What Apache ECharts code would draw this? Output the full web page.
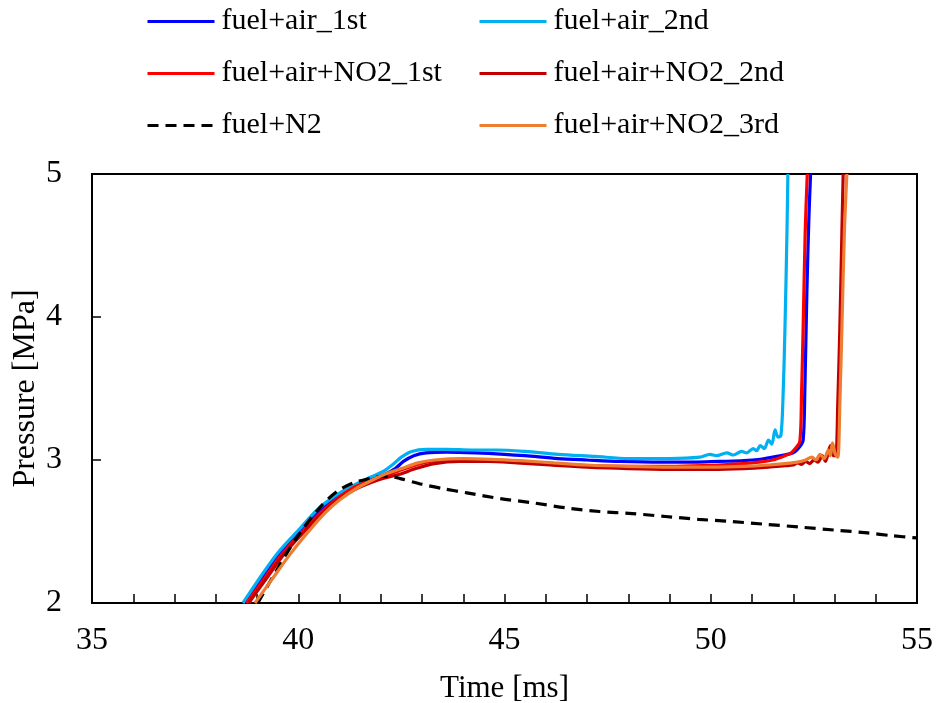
<!DOCTYPE html>
<html>
<head>
<meta charset="utf-8">
<script src="https://cdn.jsdelivr.net/npm/echarts@6/dist/echarts.min.js"></script>
<style>html,body{margin:0;padding:0;background:#fff}#c{width:938px;height:703px}</style>
</head>
<body>
<div id="c"></div>
<script>
const xTicks = [35, 40, 45, 50, 55];
const yTicks = [2, 3, 4, 5];
const seriesNames = ['fuel+air_1st', 'fuel+air_2nd', 'fuel+air+NO2_1st', 'fuel+air+NO2_2nd', 'fuel+N2', 'fuel+air+NO2_3rd'];

const air1 = [[38.73,2.0],[39.2,2.2],[39.6,2.36],[40.1,2.52],[40.5,2.64],[40.9,2.73],[41.3,2.8],[41.7,2.86],[42.1,2.9],[42.35,2.94],[42.55,2.99],[42.8,3.03],[43.1,3.05],[43.6,3.055],[44.3,3.05],[45.0,3.04],[45.5,3.03],[46.3,3.01],[47.0,3.0],[47.8,2.99],[48.8,2.985],[49.6,2.985],[50.2,2.99],[50.8,2.995],[51.2,3.005],[51.6,3.025],[52.0,3.05],[52.15,3.09],[52.24,3.14],[52.28,3.47],[52.33,4.17],[52.38,4.7],[52.42,5.0]];

const air2 = [[38.66,2.0],[39.15,2.21],[39.56,2.37],[40.04,2.52],[40.45,2.65],[40.85,2.74],[41.25,2.81],[41.67,2.87],[42.06,2.92],[42.3,2.97],[42.5,3.02],[42.75,3.06],[43.1,3.075],[43.6,3.075],[44.2,3.07],[44.8,3.07],[45.5,3.06],[46.3,3.04],[47.2,3.025],[48.0,3.01],[49.0,3.01],[49.74,3.02],[49.98,3.04],[50.14,3.03],[50.39,3.05],[50.55,3.035],[50.75,3.06],[50.87,3.05],[51.03,3.08],[51.11,3.065],[51.2,3.1],[51.3,3.08],[51.4,3.14],[51.48,3.11],[51.56,3.21],[51.63,3.16],[51.7,3.17],[51.75,3.42],[51.8,3.93],[51.85,4.63],[51.87,5.0]];

const no2a = [[38.75,2.0],[39.2,2.18],[39.6,2.34],[40.1,2.5],[40.5,2.62],[40.9,2.72],[41.3,2.8],[41.7,2.85],[42.0,2.88],[42.4,2.92],[42.8,2.96],[43.2,2.99],[43.8,3.0],[44.5,3.0],[45.2,2.99],[46.0,2.975],[47.0,2.96],[48.0,2.955],[49.0,2.955],[49.8,2.96],[50.5,2.97],[51.0,2.98],[51.5,3.0],[51.8,3.03],[51.95,3.05],[52.05,3.08],[52.16,3.13],[52.2,3.45],[52.24,3.93],[52.29,4.6],[52.34,5.0]];

const no2b = [[38.8,2.0],[39.25,2.18],[39.65,2.34],[40.15,2.5],[40.55,2.62],[40.95,2.72],[41.35,2.79],[41.75,2.84],[42.05,2.87],[42.45,2.9],[42.85,2.94],[43.3,2.975],[43.9,2.99],[44.6,2.99],[45.3,2.98],[46.1,2.965],[47.0,2.95],[48.0,2.94],[49.0,2.935],[50.0,2.935],[50.8,2.94],[51.4,2.95],[51.8,2.96],[52.0,2.965],[52.1,2.98],[52.2,2.97],[52.3,2.99],[52.4,2.975],[52.5,3.0],[52.6,2.985],[52.7,3.03],[52.78,2.99],[52.9,3.1],[52.97,3.03],[53.03,3.03],[53.08,3.4],[53.13,3.93],[53.18,4.6],[53.21,5.0]];

const n2 = [[39.02,2.0],[39.5,2.24],[39.97,2.46],[40.53,2.67],[40.94,2.78],[41.33,2.84],[41.74,2.87],[42.0,2.885],[42.2,2.885],[42.47,2.87],[43.0,2.83],[43.5,2.8],[44.09,2.77],[44.9,2.73],[45.7,2.7],[46.5,2.665],[47.3,2.64],[48.1,2.625],[48.9,2.605],[49.7,2.585],[50.5,2.57],[51.35,2.55],[52.2,2.53],[53.0,2.51],[53.8,2.49],[54.4,2.47],[55.0,2.455]];

const no2c = [[38.95,2.0],[39.4,2.18],[39.8,2.34],[40.25,2.5],[40.65,2.63],[41.0,2.72],[41.4,2.8],[41.8,2.86],[42.1,2.9],[42.5,2.94],[42.9,2.98],[43.3,3.0],[44.0,3.01],[44.7,3.005],[45.4,2.995],[46.2,2.98],[47.0,2.965],[48.0,2.955],[49.0,2.95],[50.0,2.95],[50.8,2.955],[51.4,2.965],[51.8,2.975],[52.1,2.985],[52.3,3.0],[52.45,3.02],[52.55,3.0],[52.65,3.04],[52.75,3.01],[52.85,3.07],[52.9,3.03],[52.95,3.12],[53.02,3.04],[53.08,3.02],[53.13,3.4],[53.18,3.93],[53.24,4.6],[53.3,5.0]];

const dataSets = [air1, air2, no2a, no2b, n2, no2c];
const colors = ['#0000FF', '#00B0F0', '#FF0000', '#C00000', '#000000', '#ED7D31'];

const FONT = '"Times New Roman", "Liberation Serif", serif';
const chart = echarts.init(document.getElementById('c'), null, {renderer: 'canvas'});

const series = seriesNames.map((name, i) => ({
  name: name,
  type: 'line',
  data: dataSets[i],
  showSymbol: false,
  symbol: 'none',
  smooth: 0.3,
  clip: true,
  lineStyle: {color: colors[i], width: 3.2, type: name === 'fuel+N2' ? [11, 7] : 'solid'},
  itemStyle: {color: colors[i]},
  z: 2 + i
}));

const legendCommon = {
  orient: 'vertical',
  padding: 0,
  itemWidth: 67,
  itemHeight: 14,
  itemGap: 21,
  itemStyle: {opacity: 0},
  lineStyle: {width: 3},
  textStyle: {fontFamily: FONT, fontSize: 30, color: '#000', lineHeight: 31, padding: [0, 0, 0, 2]}
};

chart.setOption({
  animation: false,
  backgroundColor: '#fff',
  legend: [
    Object.assign({}, legendCommon, {left: 146, top: 6, data: [seriesNames[0], seriesNames[2], seriesNames[4]]}),
    Object.assign({}, legendCommon, {left: 478, top: 6, data: [seriesNames[1], seriesNames[3], seriesNames[5]]})
  ],
  grid: {left: 92, right: 21, top: 174, bottom: 100, outerBoundsMode: 'none', containLabel: false, show: true, borderColor: '#000', borderWidth: 2, backgroundColor: 'transparent'},
  xAxis: {
    type: 'value',
    min: xTicks[0], max: xTicks[xTicks.length - 1], interval: 5,
    name: 'Time [ms]', nameLocation: 'middle', nameGap: 70,
    nameTextStyle: {fontFamily: FONT, fontSize: 31, color: '#000'},
    axisLine: {show: true, lineStyle: {color: '#000', width: 2}},
    axisTick: {show: true, inside: true, length: 9, lineStyle: {color: '#000', width: 1.5}},
    minorTick: {show: true, splitNumber: 5, length: 9, lineStyle: {color: '#000', width: 1.5}},
    axisLabel: {fontFamily: FONT, fontSize: 32, color: '#000', margin: 22},
    splitLine: {show: false}
  },
  yAxis: {
    type: 'value',
    min: yTicks[0], max: yTicks[yTicks.length - 1], interval: 1,
    name: 'Pressure [MPa]', nameLocation: 'middle', nameGap: 50,
    nameTextStyle: {fontFamily: FONT, fontSize: 32, color: '#000', verticalAlign: 'bottom'},
    nameMoveOverlap: false,
    axisLine: {show: true, lineStyle: {color: '#000', width: 2}},
    axisTick: {show: true, inside: true, length: 9, lineStyle: {color: '#000', width: 1.5}},
    axisLabel: {fontFamily: FONT, fontSize: 32, color: '#000', margin: 30},
    splitLine: {show: false}
  },
  series: series
});
</script>
</body>
</html>
